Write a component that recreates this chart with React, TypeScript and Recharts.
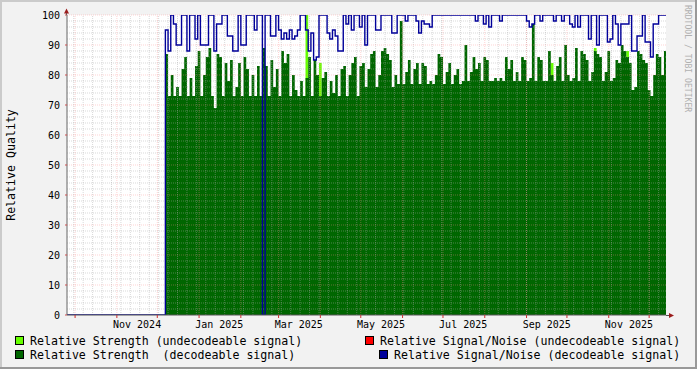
import React from 'react';
import { Area, CartesianGrid, ComposedChart, Line, ReferenceLine, XAxis, YAxis } from 'recharts';

const FONT = '"DejaVu Sans Mono", monospace';
const DAY = 86400000;

const AXIS_START = Date.UTC(2024, 8, 25);
const AXIS_END = Date.UTC(2025, 11, 13, 12);
const FIRST_SAMPLE = Date.UTC(2024, 11, 7);
const SAMPLE_STEP = 2 * DAY;

// relative strength of decodeable signal, one value per 2 days from Dec 7 2024
const strengthDecodeable = [
  87, 73, 80, 73, 76, 73, 82, 86, 73, 79, 73, 83, 88, 73, 80, 86, 89, 73, 69, 87,
  86, 73, 84, 78, 85, 73, 76, 84, 73, 86, 82, 73, 80, 73, 83, 73, 89,
  83, 73, 85, 76, 82, 73, 88, 84, 87, 73, 80, 75, 73, 78, 73, 79, 86, 73, 85, 80,
  73, 79, 81, 73, 78, 74, 80, 73, 82, 83, 73, 80, 84, 86, 73, 83,
  84, 76, 82, 87, 88, 76, 80, 88, 89, 87, 85, 76, 80, 77, 98, 77, 81, 85, 77, 82,
  84, 77, 84, 83, 77, 78, 77, 80, 87, 86, 77, 81, 84, 77, 80, 82, 77, 78,
  90, 78, 81, 86, 82, 84, 78, 86, 85, 78, 78, 79, 78, 79, 78, 86, 82, 85, 78, 81,
  78, 86, 85, 78, 79, 97, 78, 86, 85, 78, 78, 88, 80, 78, 83, 86, 78, 90, 80, 78,
  79, 89, 78, 88, 87, 85, 78, 81, 88, 87, 86, 78, 81, 88, 78, 79, 85, 84, 90, 88,
  86, 84, 75, 76, 88, 87, 85, 84, 75, 73, 80, 87, 86, 80, 88,
];

// undecodeable strength only shows where it tops the decodeable one (sample index -> value)
const strengthUndecodeable: Record<number, number> = {
  52: 100, 57: 84, 126: 85, 143: 84, 159: 89, 171: 88,
};

// relative signal/noise of decodeable signal, same samples
const snrDecodeable = [
  95, 88, 100, 97, 90, 90, 100, 100, 88, 100,
  100, 92, 100, 90, 90, 90, 100, 100, 88, 97,
  97, 100, 100, 93, 93, 88, 88, 100, 90, 90,
  100, 100, 100, 95, 100, 100, 0, 100, 100, 93,
  93, 100, 95, 92, 94, 92, 95, 92, 93, 95,
  100, 100, 95, 88, 94, 85, 86, 100, 100, 100,
  94, 92, 95, 93, 88, 88, 100, 97, 100, 95,
  100, 100, 96, 100, 90, 100, 100, 100, 95, 95,
  100, 100, 100, 100, 94, 94, 100, 100, 100, 98,
  100, 100, 100, 98, 94, 98, 97, 97, 96, 100,
  100, 100, 100, 100, 100, 100, 100, 100, 100, 100,
  100, 100, 100, 100, 100, 98, 100, 100, 97, 100,
  96, 100, 100, 100, 98, 100, 100, 100, 100, 100,
  100, 100, 100, 100, 98, 96, 97, 100, 100, 98,
  100, 100, 100, 100, 98, 100, 100, 98, 100, 100,
  97, 96, 100, 96, 100, 100, 100, 92, 100, 100,
  90, 100, 100, 100, 91, 92, 100, 97, 90, 97,
  97, 97, 100, 88, 88, 93, 93, 100, 91, 91,
  86, 97, 97, 100, 100, 100,
];

const yTicks = [0, 10, 20, 30, 40, 50, 60, 70, 80, 90, 100];
const labelMonths: [number, number, string][] = [
  [2024, 10, 'Nov 2024'],
  [2025, 0, 'Jan 2025'],
  [2025, 2, 'Mar 2025'],
  [2025, 4, 'May 2025'],
  [2025, 6, 'Jul 2025'],
  [2025, 8, 'Sep 2025'],
  [2025, 10, 'Nov 2025'],
];

const GREEN = '#006600';
const LIME = '#66ff00';
const RED = '#ff0000';
const BLUE = '#000099';

const rows: { t: number; strength: number; undecodeable: number; snr: number }[] = [
  { t: AXIS_START, strength: 0, undecodeable: 0, snr: 0 },
];
strengthDecodeable.forEach((s, i) => {
  rows.push({ t: FIRST_SAMPLE + i * SAMPLE_STEP, strength: s, undecodeable: strengthUndecodeable[i] ?? 0, snr: snrDecodeable[i] });
});
rows.push({
  t: AXIS_END,
  strength: strengthDecodeable[strengthDecodeable.length - 1],
  undecodeable: 0,
  snr: snrDecodeable[snrDecodeable.length - 1],
});

const monthStarts: number[] = [];
for (let k = 0; k < 15; k++) monthStarts.push(Date.UTC(2024, 9 + k, 1));
const weekLines: number[] = [];
for (let t = Date.UTC(2024, 8, 30); t < AXIS_END; t += 7 * DAY) weekLines.push(t);
const minorY: number[] = [];
for (let v = 2; v < 100; v += 2) if (v % 10 !== 0) minorY.push(v);
const majorY = yTicks.filter((v) => v > 0);

const labelTicks = labelMonths.map(([y, m]) => Date.UTC(y, m, 1) + 15 * DAY);
const xTicks = [...monthStarts, ...labelTicks].sort((a, b) => a - b);

function TimeTick(props: any) {
  const { x, y, payload } = props;
  const idx = labelTicks.indexOf(payload.value);
  if (idx >= 0) {
    return (
      <text x={x} y={y + 13} textAnchor="middle" fontSize={10} fontFamily={FONT} fill="#000">
        {labelMonths[idx][2]}
      </text>
    );
  }
  return <line x1={x} x2={x} y1={y} y2={y + 3} stroke="#cc3030" />;
}

const minorStroke = { stroke: '#a8a8a8', strokeOpacity: 0.45, strokeDasharray: '1 1' };
const majorStroke = { stroke: '#ff8c8c', strokeOpacity: 0.38, strokeDasharray: '1 1' };

function Swatch({ x, y, color }: { x: number; y: number; color: string }) {
  return <rect x={x + 0.5} y={y + 0.5} width={8} height={8} fill={color} stroke="#000" />;
}

export default function App() {
  return (
    <div style={{ position: 'absolute', left: 0, top: 0, width: 697, height: 369, background: '#f2f2f2', overflow: 'hidden' }}>
      <ComposedChart width={697} height={369} data={rows} margin={{ top: 15, right: 31, bottom: 0, left: 0 }}>
        <CartesianGrid horizontal={false} vertical={false} fill="#ffffff" />
        <XAxis
          dataKey="t"
          type="number"
          domain={[AXIS_START, AXIS_END]}
          allowDataOverflow
          ticks={xTicks}
          interval={0}
          tick={TimeTick}
          tickSize={0}
          tickMargin={0}
          tickLine={false}
          axisLine={{ stroke: '#555' }}
          height={54}
        />
        <YAxis
          type="number"
          domain={[0, 100]}
          allowDataOverflow
          ticks={yTicks}
          interval={0}
          width={67}
          tick={{ fontSize: 10, fontFamily: FONT, fill: '#000' }}
          tickSize={2}
          tickMargin={5}
          tickLine={{ stroke: '#cc5050' }}
          axisLine={{ stroke: '#666' }}
        />
        <Area dataKey="undecodeable" type="stepAfter" stroke="none" fill={LIME} fillOpacity={1} baseValue={0} dot={false} activeDot={false} isAnimationActive={false} />
        <Area dataKey="strength" type="stepAfter" stroke="none" fill={GREEN} fillOpacity={1} baseValue={0} dot={false} activeDot={false} isAnimationActive={false} />
        {minorY.map((v) => (
          <ReferenceLine key={'my' + v} y={v} {...minorStroke} zIndex={300} />
        ))}
        {weekLines.map((t) => (
          <ReferenceLine key={'wx' + t} x={t} {...minorStroke} zIndex={300} />
        ))}
        {majorY.map((v) => (
          <ReferenceLine key={'My' + v} y={v} {...majorStroke} zIndex={300} />
        ))}
        {monthStarts.map((t) => (
          <ReferenceLine key={'Mx' + t} x={t} {...majorStroke} zIndex={300} />
        ))}
        <Line dataKey="snr" type="stepAfter" stroke={BLUE} strokeWidth={1.4} dot={false} activeDot={false} isAnimationActive={false} />
      </ComposedChart>
      <svg width={697} height={369} style={{ position: 'absolute', left: 0, top: 0, pointerEvents: 'none' }}>
        <rect x={0} y={0} width={697} height={2} fill="#cbcbcb" />
        <rect x={0} y={0} width={2} height={369} fill="#cbcbcb" />
        <rect x={0} y={367} width={697} height={2} fill="#999999" />
        <rect x={695} y={0} width={2} height={369} fill="#999999" />
        <line x1={66.5} x2={66.5} y1={10} y2={15} stroke="#666" />
        <polygon points="64,13.5 69,13.5 66.5,8.5" fill="#9b1c1c" />
        <line x1={666} x2={670} y1={315.5} y2={315.5} stroke="#555" />
        <polygon points="669,313 669,318 674,315.5" fill="#9b1c1c" />
        <text transform="translate(15,165) rotate(-90)" textAnchor="middle" fontSize={11.6} fontFamily={FONT} fill="#000">
          Relative Quality
        </text>
        <text transform="translate(685,5) rotate(90)" fontSize={8.1} fontFamily={FONT} fill="#b0b0b0">
          RRDTOOL / TOBI OETIKER
        </text>
        <Swatch x={15} y={336} color={LIME} />
        <Swatch x={15} y={350} color={GREEN} />
        <Swatch x={365} y={336} color={RED} />
        <Swatch x={379} y={350} color={BLUE} />
        <g fontSize={11.6} fontFamily={FONT} fill="#000">
          <text x={30} y={345}>Relative Strength (undecodeable signal)</text>
          <text x={30} y={359}>{'Relative Strength\u00a0 (decodeable signal)'}</text>
          <text x={380} y={345}>Relative Signal/Noise (undecodeable signal)</text>
          <text x={394} y={359}>Relative Signal/Noise (decodeable signal)</text>
        </g>
      </svg>
    </div>
  );
}
